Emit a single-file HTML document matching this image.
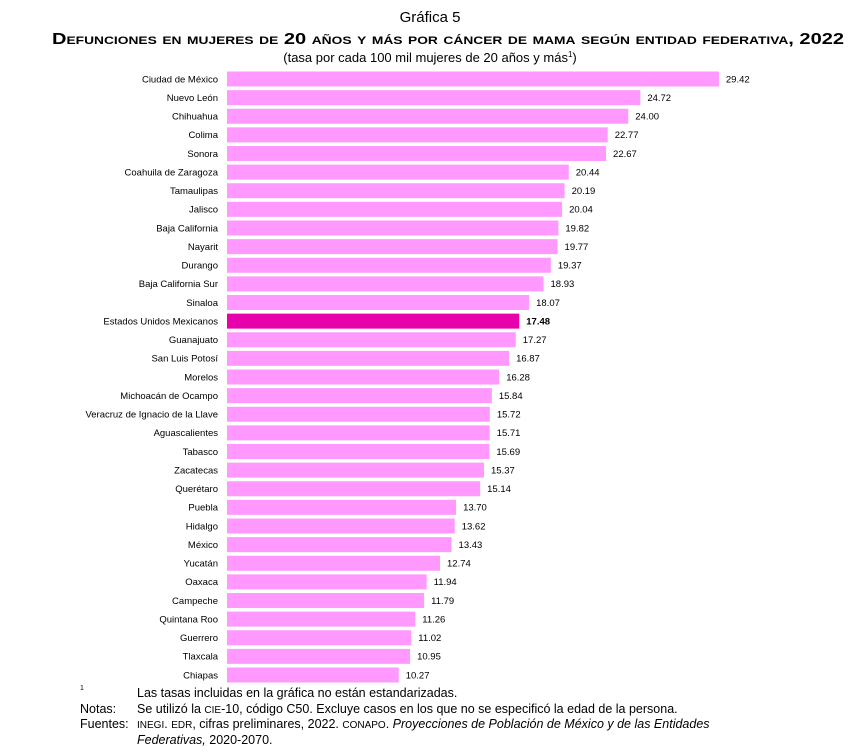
<!DOCTYPE html>
<html><head><meta charset="utf-8"><style>
body{margin:0;background:#fff;}
svg{display:block;font-family:"Liberation Sans",Arial,sans-serif;}
</style></head><body>
<svg width="861" height="756" xmlns="http://www.w3.org/2000/svg">
<text x="430" y="22" font-size="15" text-anchor="middle" fill="#000">Gráfica 5</text>
<text x="52" y="44" font-size="16" font-weight="bold" font-variant="small-caps" textLength="792" lengthAdjust="spacingAndGlyphs" fill="#000">Defunciones en mujeres de 20 años y más por cáncer de mama según entidad federativa, 2022</text>
<text x="430" y="62" font-size="13" text-anchor="middle" fill="#000">(tasa por cada 100 mil mujeres de 20 años y más<tspan font-size="8" dy="-5">1</tspan><tspan dy="5">)</tspan></text>
<g id="bars" font-size="9.5" fill="#000"></g>
<g font-size="12.5" fill="#000">
<text x="80" y="690" font-size="7">1</text>
<text x="137" y="697">Las tasas incluidas en la gráfica no están estandarizadas.</text>
<text x="80" y="713">Notas:</text>
<text x="137" y="713">Se utilizó la <tspan font-size="10">CIE</tspan>-10, código C50. Excluye casos en los que no se especificó la edad de la persona.</text>
<text x="80" y="728">Fuentes:</text>
<text x="137" y="728"><tspan font-size="10">INEGI</tspan>. <tspan font-size="10">EDR</tspan>, cifras preliminares, 2022. <tspan font-size="10">CONAPO</tspan>.  <tspan font-style="italic">Proyecciones de Población de México y de las Entidades</tspan></text>
<text x="137" y="744"><tspan font-style="italic">Federativas,</tspan> 2020-2070.</text>
</g>
</svg>
<script>
var d=[["Ciudad de México",29.42],["Nuevo León",24.72],["Chihuahua",24.00],["Colima",22.77],["Sonora",22.67],["Coahuila de Zaragoza",20.44],["Tamaulipas",20.19],["Jalisco",20.04],["Baja California",19.82],["Nayarit",19.77],["Durango",19.37],["Baja California Sur",18.93],["Sinaloa",18.07],["Estados Unidos Mexicanos",17.48],["Guanajuato",17.27],["San Luis Potosí",16.87],["Morelos",16.28],["Michoacán de Ocampo",15.84],["Veracruz de Ignacio de la Llave",15.72],["Aguascalientes",15.71],["Tabasco",15.69],["Zacatecas",15.37],["Querétaro",15.14],["Puebla",13.70],["Hidalgo",13.62],["México",13.43],["Yucatán",12.74],["Oaxaca",11.94],["Campeche",11.79],["Quintana Roo",11.26],["Guerrero",11.02],["Tlaxcala",10.95],["Chiapas",10.27]];
var g=document.getElementById("bars"),s="";
d.forEach(function(r,i){var cy=79+i*18.625,w=r[1]*16.72,hl=r[0]=="Estados Unidos Mexicanos";
s+='<rect x="227" y="'+(cy-7.5)+'" width="'+w+'" height="15" fill="'+(hl?'#e800aa':'#ff99ff')+'"/>';
s+='<text x="218" y="'+(cy+3.3)+'" text-anchor="end">'+r[0]+'</text>';
s+='<text x="'+(227+w+7)+'" y="'+(cy+3.3)+'"'+(hl?' font-weight="bold"':'')+'>'+r[1].toFixed(2)+'</text>';});
g.innerHTML=s;
</script>
</body></html>
